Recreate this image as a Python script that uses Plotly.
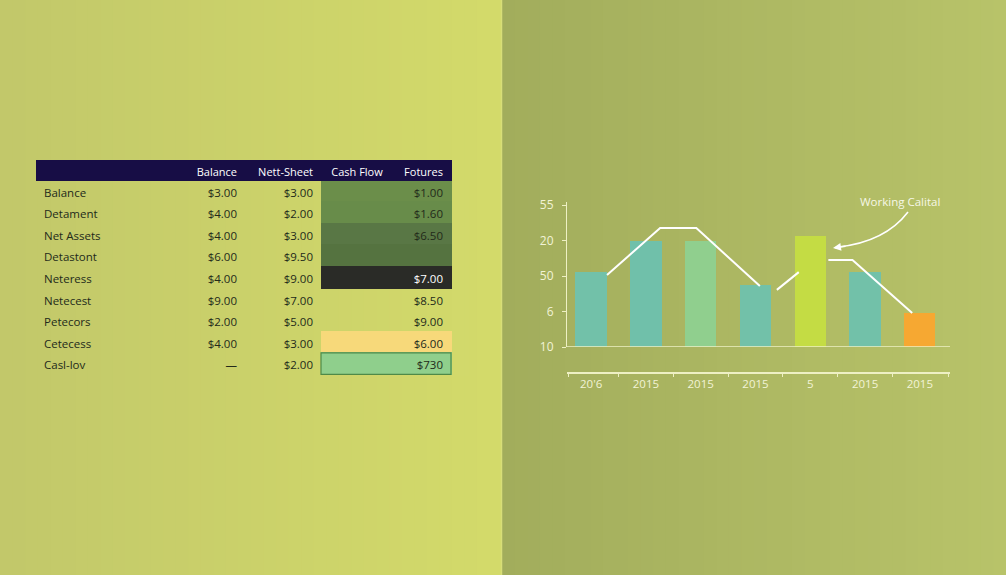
import plotly.graph_objects as go

# ---------------- data ----------------
row_labels = ["Balance", "Detament", "Net Assets", "Detastont", "Neteress",
              "Netecest", "Petecors", "Cetecess", "Casl-lov"]
col_headers = ["", "Balance", "Nett-Sheet", "Cash Flow", "Fotures"]
balance_vals = ["$3.00", "$4.00", "$4.00", "$6.00", "$4.00", "$9.00", "$2.00", "$4.00", "—"]
netsheet_vals = ["$3.00", "$2.00", "$3.00", "$9.50", "$9.00", "$7.00", "$5.00", "$3.00", "$2.00"]
cashflow_vals = ["", "", "", "", "", "", "", "", ""]
fotures_vals = ["$1.00", "$1.60", "$6.50", "", "$7.00", "$8.50", "$9.00", "$6.00", "$730"]

bar_labels = ["20'6", "2015", "2015", "2015", "5", "2015", "2015"]
bar_values = [2.14, 3.01, 3.01, 1.75, 3.13, 2.14, 0.96]
bar_colors = ["#72c1a9", "#70c0aa", "#90cf8e", "#72c1a9", "#c4dc44", "#72c1a9", "#f6a832"]
y_tick_vals = [0, 1, 2, 3, 4]
y_tick_text = ["10", "6", "50", "20", "55"]

line_x = [0.29, 1.26, 1.92, 3.08, None, 3.39, 3.79, None, 4.33, 4.77, 5.86]
line_y = [2.03, 3.35, 3.35, 1.72, None, 1.61, 2.11, None, 2.45, 2.45, 0.96]

annotation_text = "Working Calital"

# ---------------- layout helpers ----------------
W, H = 1006, 575
def px(x):
    return x / W
def py(y):
    return 1 - y / H

FONT = "Open Sans"
TXT_DARK = "#232a1a"
CREAM = "#f2f3d6"

fig = go.Figure()

# background panels: horizontal gradients built from thin paper-space stripes
def hexrgb(h):
    h = h.lstrip("#")
    return tuple(int(h[i:i + 2], 16) for i in (0, 2, 4))

def gradient_panel(x0, x1, c0, c1, steps=40):
    a, b = hexrgb(c0), hexrgb(c1)
    w = (x1 - x0) / steps
    for i in range(steps):
        t = i / (steps - 1)
        col = "rgb({},{},{})".format(*[round(a[k] + (b[k] - a[k]) * t) for k in range(3)])
        fig.add_shape(type="rect", xref="paper", yref="paper", layer="below",
                      x0=px(x0 + i * w), x1=px(min(x1, x0 + (i + 1) * w + 0.8)),
                      y0=-0.05, y1=1.05, line=dict(width=0), fillcolor=col)

gradient_panel(0, 502, "#c2c86a", "#d3da6a")
gradient_panel(502, W, "#a2ad5c", "#b8c369")
fig.add_shape(type="line", xref="paper", yref="paper", layer="below",
              x0=px(501.5), x1=px(501.5), y0=-0.05, y1=1.05,
              line=dict(color="#d8de78", width=1.5))

# ---------------- table ----------------
n = len(row_labels)
clear = "rgba(0,0,0,0)"
block_fill = ["#6b8e4a", "#688c4a", "#597745", "#557340", "#2a2b27",
              clear, clear, "#f7d97a", "#8fcf8c"]
col_fill = [[clear] * n, [clear] * n, [clear] * n, block_fill, block_fill]
fot_font = [TXT_DARK] * n
fot_font[4] = "#ffffff"
font_colors = [[TXT_DARK] * n, [TXT_DARK] * n, [TXT_DARK] * n, [TXT_DARK] * n, fot_font]

TABLE_TOP, HEADER_H, CELL_H = 160, 20, 21.6
table_bottom = TABLE_TOP + HEADER_H + CELL_H * n
fig.add_trace(go.Table(
    domain=dict(x=[px(36), px(451)], y=[py(table_bottom + 2), py(TABLE_TOP)]),
    columnwidth=[144, 65, 76, 72, 58],
    header=dict(values=col_headers, fill_color="#170d45",
                line=dict(color="#170d45", width=1),
                align=["left", "right", "right", "center", "right"],
                font=dict(family=FONT, size=11, color="#ffffff"),
                height=HEADER_H),
    cells=dict(values=[row_labels, balance_vals, netsheet_vals, cashflow_vals, fotures_vals],
               fill_color=col_fill, line=dict(color=col_fill, width=1),
               align=["left", "right", "right", "right", "right"],
               font=dict(family=FONT, size=11.5, color=font_colors),
               height=CELL_H)))

# border around the last highlighted cell block
fig.add_shape(type="rect", xref="paper", yref="paper",
              x0=px(321), x1=px(451), y0=py(table_bottom), y1=py(table_bottom - CELL_H),
              line=dict(color="#4f8a48", width=1.2), fillcolor=clear)

# ---------------- bar chart ----------------
xs = list(range(len(bar_values)))
fig.add_trace(go.Bar(x=xs, y=bar_values, marker=dict(color=bar_colors, line=dict(width=0)),
                     width=0.57, showlegend=False, hoverinfo="skip"))
fig.add_trace(go.Scatter(x=line_x, y=line_y, mode="lines", connectgaps=False,
                         line=dict(color="#ffffff", width=2),
                         showlegend=False, hoverinfo="skip"))

# baseline
fig.add_shape(type="line", xref="x domain", yref="y", x0=0, x1=1, y0=0, y1=0,
              line=dict(color="#eef0c4", width=1.5))

# curved arrow + label
fig.add_shape(type="path", xref="paper", yref="paper",
              path=f"M {px(908)},{py(212)} Q {px(885)},{py(242)} {px(838)},{py(247)}",
              line=dict(color="#ffffff", width=1.6))
fig.add_annotation(x=px(833), y=py(248), xref="paper", yref="paper",
                   ax=14, ay=-2, text="", showarrow=True, arrowhead=2,
                   arrowsize=1, arrowwidth=1.6, arrowcolor="#ffffff")
fig.add_annotation(x=px(900), y=py(202), xref="paper", yref="paper",
                   xanchor="center", yanchor="middle",
                   text=annotation_text, showarrow=False,
                   font=dict(family=FONT, size=11.5, color="#f6f7e6"))

minor_vals = [-0.42] + [k + 0.5 for k in range(len(bar_values) - 1)] + [6.52]

fig.update_layout(
    width=W, height=H, margin=dict(l=0, r=0, t=0, b=0, pad=0, autoexpand=False),
    paper_bgcolor="#b8c066", plot_bgcolor="rgba(0,0,0,0)",
    showlegend=False, bargap=0,
    xaxis=dict(domain=[px(567), px(950)], range=[-0.44, 6.55], anchor="free",
               position=py(373), showline=True, linecolor="#eef0c4", linewidth=1.5,
               automargin=False,
               showgrid=False, zeroline=False, tickvals=xs, ticktext=bar_labels,
               ticks="", tickfont=dict(family=FONT, size=11.5, color=CREAM),
               minor=dict(tickvals=minor_vals, ticks="outside", ticklen=3,
                          tickcolor="#eef0c4", tickwidth=1.2, showgrid=False)),
    yaxis=dict(domain=[py(347), py(201.5)], range=[0, 4.1], anchor="x",
               showline=True, linecolor="#eef0c4", linewidth=1.2, showgrid=False,
               automargin=False,
               zeroline=False, tickvals=y_tick_vals, ticktext=y_tick_text,
               ticks="outside", ticklen=4, tickcolor="#eef0c4", ticklabelstandoff=6,
               tickfont=dict(family=FONT, size=12, color=CREAM)),
)

fig.write_html("out.html", config={"displayModeBar": False},
               post_script="document.body.style.margin='0';document.body.style.overflow='hidden';")
